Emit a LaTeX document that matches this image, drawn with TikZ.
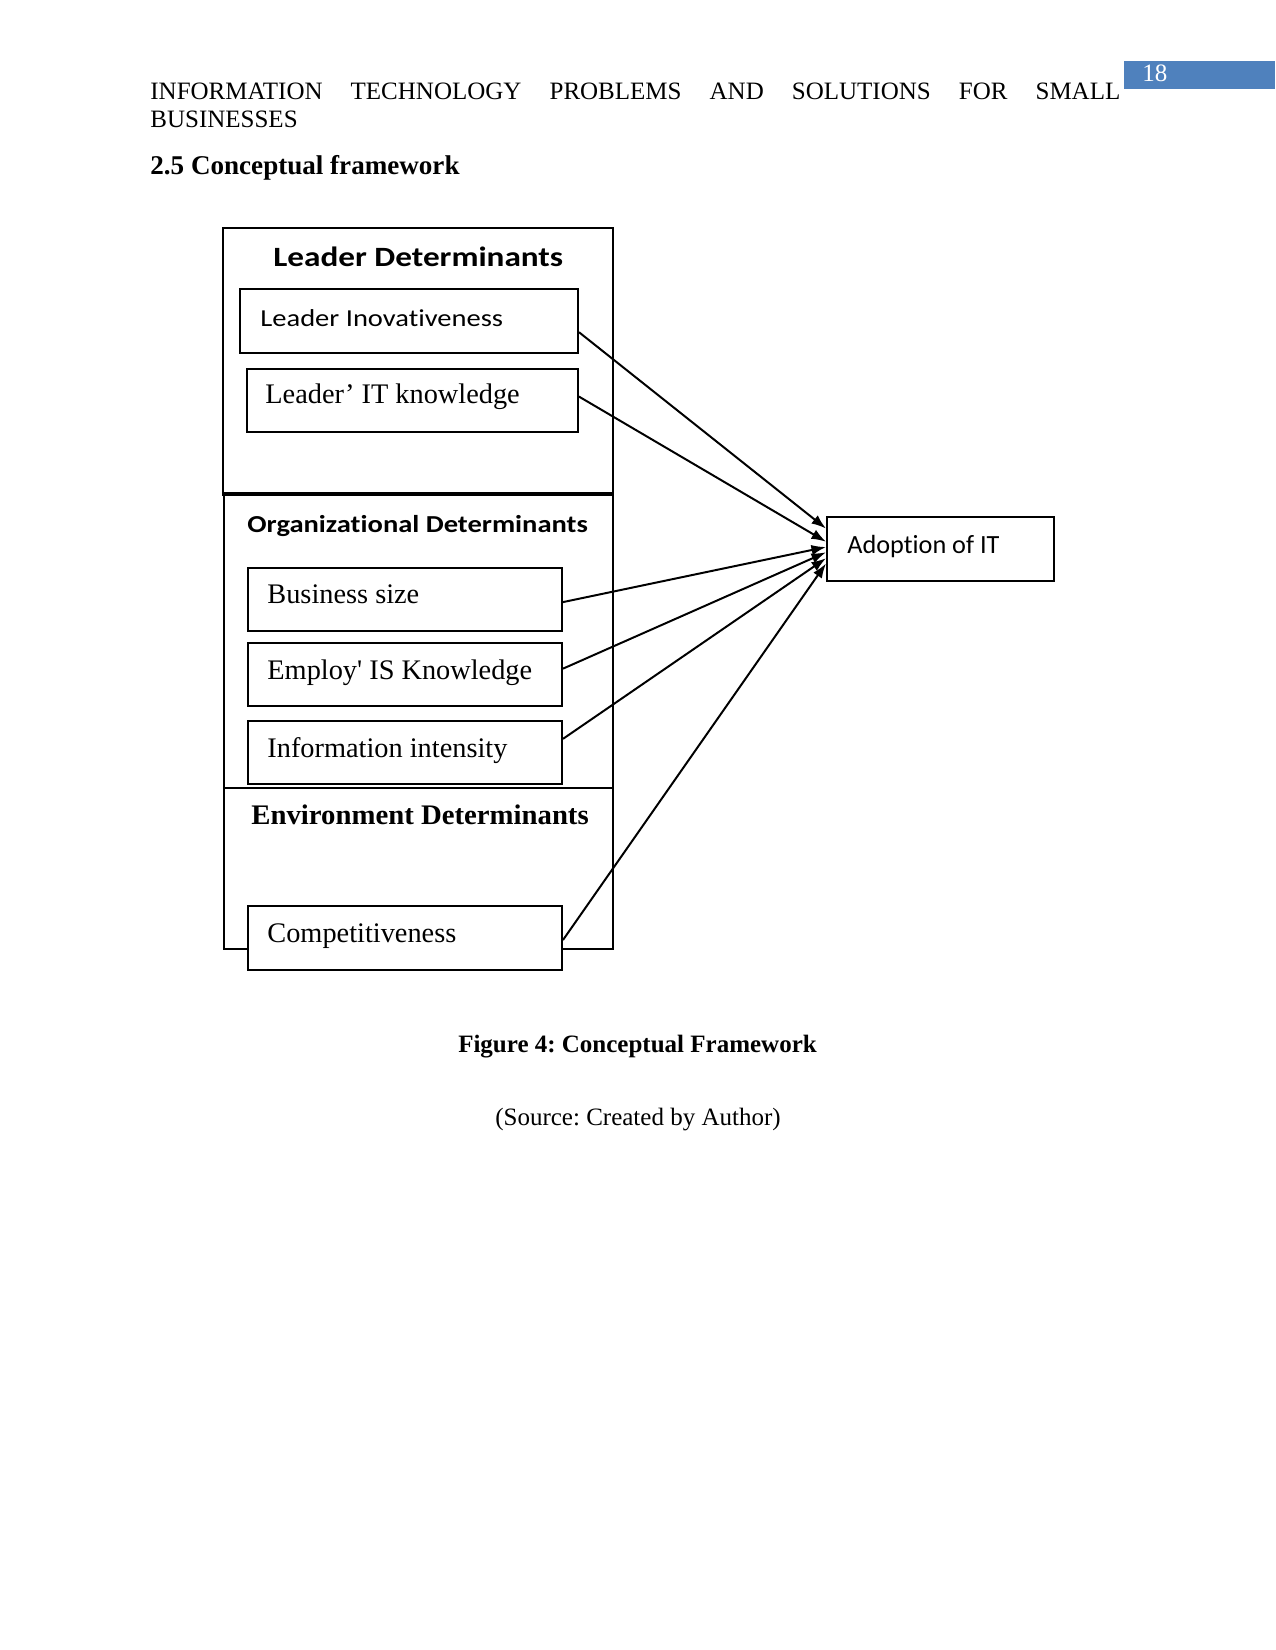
\documentclass[tikz,border=0pt]{standalone}
\usepackage{fontspec}
\usepackage{graphicx}
\setmainfont{Liberation Serif}
\newfontfamily\carlito{Carlito}[Ligatures={NoCommon,NoRare}]
\usetikzlibrary{fit,calc,arrows.meta}
\definecolor{hdrblue}{HTML}{4F81BD}
\newcommand\hs[2]{\scalebox{#1}[1]{#2}}
\frenchspacing
\tikzset{
  box/.style={draw, line width=0.95pt, inner sep=0pt, rectangle},
  lbl/.style={anchor=base west, inner sep=0pt},
  arr/.style={line width=0.95pt, -{Latex[length=7pt,width=5pt]}},
  timesfont/.style={font=\fontsize{13.6}{15}\selectfont},
}
\begin{document}
\begin{tikzpicture}[x=0.48pt,y=-0.48pt]
\useasboundingbox (0,0) rectangle (1275,1650);
\fill[white] (0,0) rectangle (1275,1650);

% header
\node[lbl, font=\fontsize{12}{14}\selectfont] (h1) at (150,100)
  {\hbox to 465.6pt{INFORMATION\hfill TECHNOLOGY\hfill PROBLEMS\hfill AND\hfill SOLUTIONS\hfill FOR\hfill SMALL}};
\node[lbl, font=\fontsize{12}{14}\selectfont] (h2) at (150,128) {BUSINESSES};
\node[fill=hdrblue, inner sep=0pt, fit={(1124,61)(1275,89)}] (pg) {};
\node[lbl, text=white, font=\fontsize{12}{14}\selectfont] (pgn) at (1142,82) {18};
\node[lbl, font=\fontsize{13}{15}\selectfont\bfseries] (sec) at (150,175) {2.5 Conceptual framework};

% group frames
\node[box, fit={(223,228)(613,493)}] (lead) {};
\node[box, fit={(224,493)(613,788)}] (org) {};
\node[box, fit={(224,788)(613,949)}] (env) {};
\draw[line width=1.5pt] (lead.south west) -- (lead.south east);

% titles
\node[lbl, font=\carlito\bfseries\fontsize{13.4}{15}\selectfont] (leadT) at (273,267) {\hs{1.19}{Leader Determinants}};
\node[lbl, font=\carlito\bfseries\fontsize{11.7}{14}\selectfont] (orgT) at (247,532) {\hs{1.17}{Organizational Determinants}};
\node[lbl, font=\bfseries\fontsize{13.6}{15}\selectfont] (envT) at (251,824) {\hs{1.015}{Environment Determinants}};

% inner boxes
\node[box, fit={(240,289)(578,353)}] (li) {};
\node[lbl, font=\carlito\fontsize{11.7}{14}\selectfont] (liT) at (260,327) {\hs{1.17}{Leader Inovativeness}};
\node[box, fit={(247,369)(578,432)}] (lk) {};
\node[lbl, timesfont] (lkT) at (265,404) {Leader’ IT knowledge};

\node[box, fit={(248,568)(562,631)}] (bs) {};
\node[lbl, timesfont] (bsT) at (267,603) {Business size};
\node[box, fit={(248,643)(562,706)}] (em) {};
\node[lbl, timesfont] (emT) at (267,679) {Employ\textquotesingle\ IS Knowledge};
\node[box, fit={(248,721)(562,784)}] (ii) {};
\node[lbl, timesfont] (iiT) at (267,757) {Information intensity};

\node[box, fill=white, fit={(248,906)(562,970)}] (co) {};
\node[lbl, timesfont] (coT) at (267,942) {Competitiveness};

% target
\node[box, fit={(827,517)(1054,581)}] (ad) {};
\node[lbl, font=\carlito\fontsize{12.6}{14}\selectfont] (adT) at (847,553) {Adoption of IT};

% arrows
\draw[arr] ($(li.north east)!0.67!(li.south east)$) -- ($(ad.north west)!0.19!(ad.south west)$);
\draw[arr] ($(lk.north east)!0.44!(lk.south east)$) -- ($(ad.north west)!0.39!(ad.south west)$);
\draw[arr] ($(bs.north east)!0.54!(bs.south east)$) -- ($(ad.north west)!0.47!(ad.south west)$);
\draw[arr] ($(em.north east)!0.41!(em.south east)$) -- ($(ad.north west)!0.55!(ad.south west)$);
\draw[arr] ($(ii.north east)!0.29!(ii.south east)$) -- ($(ad.north west)!0.64!(ad.south west)$);
\draw[arr] ($(co.north east)!0.53!(co.south east)$) -- ($(ad.north west)!0.72!(ad.south west)$);

% caption
\node[anchor=base, inner sep=0pt, font=\fontsize{12}{14}\selectfont\bfseries] (cap) at (637.5,1052) {Figure 4: Conceptual Framework};
\node[anchor=base, inner sep=0pt, font=\fontsize{12}{14}\selectfont] (src) at (638,1125) {(Source: Created by Author)};
\end{tikzpicture}
\end{document}
